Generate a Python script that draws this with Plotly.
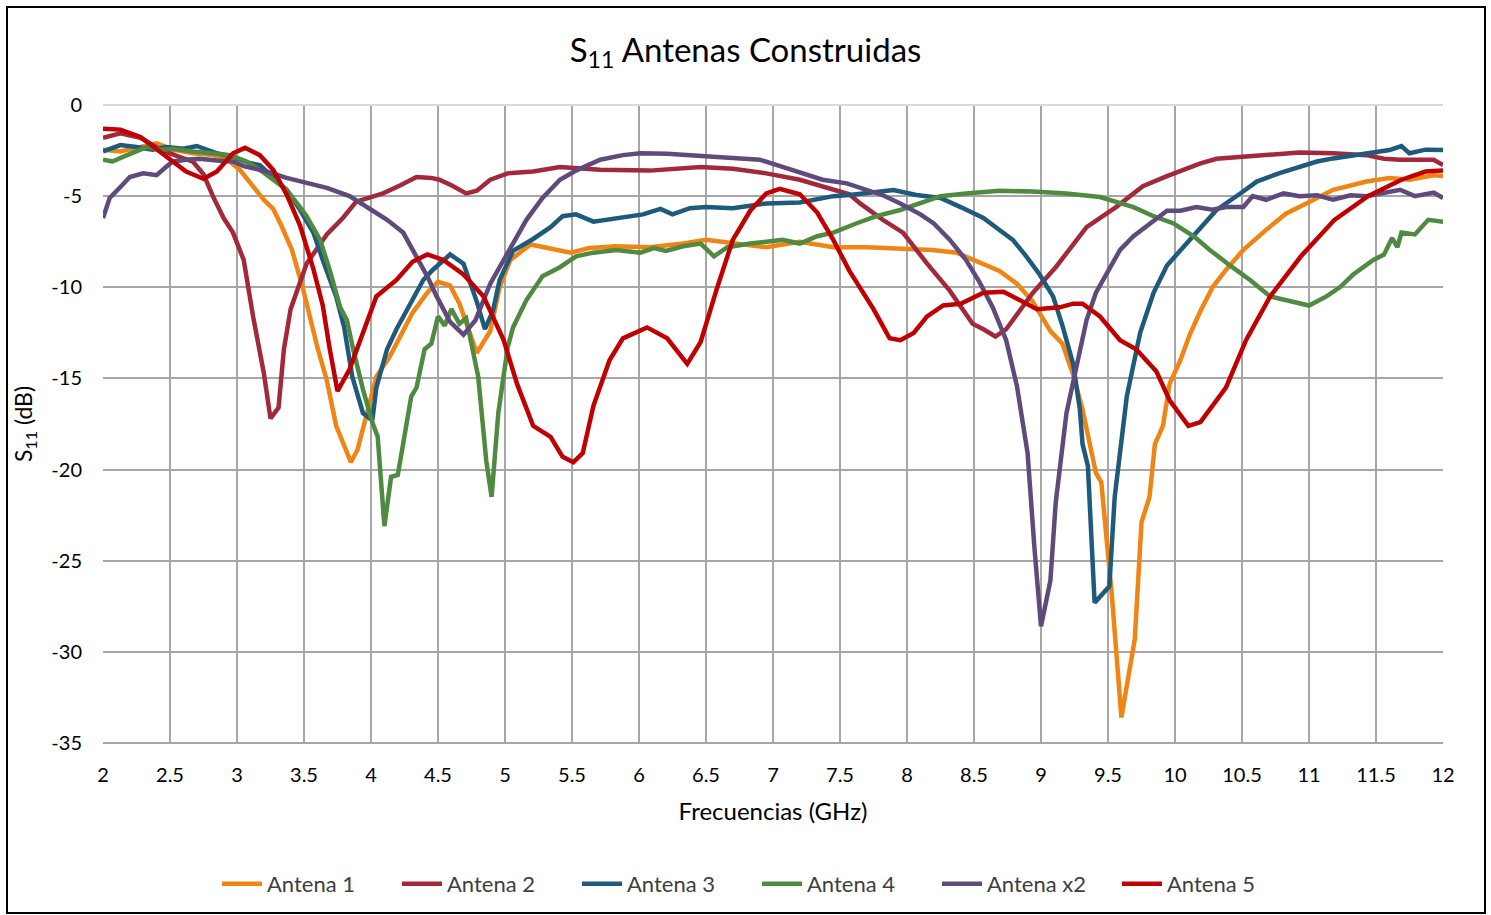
import plotly.graph_objects as go

# Measured S11 curves (frequency in GHz, reflection in dB)
f_antena1 = [2.0, 2.13, 2.28, 2.4, 2.52, 2.67, 2.82, 2.92, 3.02, 3.12, 3.2, 3.27, 3.33, 3.41, 3.49, 3.6,
             3.67, 3.74, 3.85, 3.9, 3.99, 4.04, 4.14, 4.22, 4.31, 4.42, 4.5, 4.59, 4.66, 4.79, 4.89, 4.96,
             5.04, 5.19, 5.34, 5.49, 5.63, 5.83, 6.08, 6.33, 6.5, 6.7, 6.95, 7.2, 7.45, 7.7, 7.95, 8.19,
             8.37, 8.57, 8.69, 8.82, 8.94, 9.07, 9.16, 9.24, 9.31, 9.41, 9.45, 9.53, 9.6, 9.7, 9.75, 9.81,
             9.85, 9.91, 9.96, 10.04, 10.11, 10.19, 10.28, 10.38, 10.51, 10.68, 10.83, 10.98, 11.18, 11.43,
             11.6, 11.75, 11.93, 12.0]
s11_antena1 = [-2.45, -2.55, -2.3, -2.1, -2.45, -2.65, -2.75, -2.95, -3.55, -4.45, -5.2, -5.7, -6.6, -7.95,
               -10.0, -13.3, -15.1, -17.6, -19.6, -18.9, -16.2, -14.9, -13.8, -12.7, -11.4, -10.3, -9.7, -9.9,
               -10.9, -13.6, -12.4, -10.0, -8.5, -7.65, -7.85, -8.1, -7.85, -7.75, -7.8, -7.6, -7.4, -7.6,
               -7.8, -7.5, -7.8, -7.8, -7.85, -7.95, -8.1, -8.7, -9.1, -9.8, -10.8, -12.4, -13.1, -14.8,
               -16.7, -20.2, -20.7, -27.0, -33.6, -29.3, -22.9, -21.5, -18.6, -17.6, -15.3, -14.0, -12.6,
               -11.3, -10.0, -9.05, -7.95, -6.85, -5.95, -5.4, -4.65, -4.2, -4.0, -4.1, -3.85, -3.9]

f_antena2 = [2.0, 2.13, 2.28, 2.43, 2.57, 2.67, 2.75, 2.82, 2.9, 2.97, 3.05, 3.12, 3.2, 3.25, 3.31, 3.35,
             3.4, 3.52, 3.67, 3.79, 3.89, 3.97, 4.09, 4.22, 4.34, 4.45, 4.51, 4.6, 4.71, 4.79, 4.89, 5.02,
             5.21, 5.41, 5.71, 6.08, 6.46, 6.7, 6.95, 7.2, 7.4, 7.57, 7.65, 7.82, 7.97, 8.15, 8.32, 8.49,
             8.57, 8.66, 8.74, 8.94, 9.11, 9.34, 9.56, 9.76, 9.94, 10.04, 10.19, 10.31, 10.49, 10.68,
             10.93, 11.18, 11.43, 11.56, 11.68, 11.93, 12.0]
s11_antena2 = [-1.8, -1.55, -1.8, -2.45, -2.85, -3.1, -3.8, -5.0, -6.2, -7.0, -8.5, -11.6, -14.7, -17.2,
               -16.6, -13.4, -11.2, -8.7, -7.1, -6.2, -5.3, -5.1, -4.85, -4.4, -3.95, -4.0, -4.1, -4.4,
               -4.85, -4.7, -4.1, -3.75, -3.65, -3.4, -3.55, -3.6, -3.4, -3.5, -3.75, -4.1, -4.55, -4.9,
               -5.4, -6.3, -7.0, -8.7, -10.2, -12.0, -12.3, -12.7, -12.3, -10.3, -8.9, -6.7, -5.6, -4.45,
               -3.9, -3.6, -3.2, -2.95, -2.85, -2.75, -2.6, -2.65, -2.75, -2.95, -3.0, -3.0, -3.3]

f_antena3 = [2.0, 2.13, 2.25, 2.37, 2.47, 2.6, 2.7, 2.85, 2.97, 3.1, 3.17, 3.27, 3.37, 3.47, 3.57, 3.64,
             3.74, 3.8, 3.86, 3.94, 4.01, 4.04, 4.12, 4.19, 4.29, 4.39, 4.46, 4.59, 4.69, 4.79, 4.85,
             4.91, 4.96, 5.06, 5.21, 5.34, 5.43, 5.53, 5.66, 5.83, 6.03, 6.16, 6.25, 6.38, 6.5, 6.7,
             6.95, 7.2, 7.33, 7.45, 7.57, 7.7, 7.9, 8.07, 8.25, 8.4, 8.57, 8.69, 8.79, 8.89, 8.99, 9.09,
             9.16, 9.24, 9.29, 9.31, 9.35, 9.4, 9.51, 9.55, 9.64, 9.74, 9.84, 9.94, 10.06, 10.19, 10.31,
             10.49, 10.61, 10.78, 10.93, 11.06, 11.18, 11.43, 11.6, 11.69, 11.75, 11.87, 12.0]
s11_antena3 = [-2.55, -2.2, -2.3, -2.45, -2.3, -2.4, -2.25, -2.65, -2.85, -3.2, -3.3, -3.95, -4.65, -5.75,
               -7.0, -8.5, -10.5, -12.2, -14.9, -16.9, -17.3, -15.5, -13.4, -12.3, -10.9, -9.6, -9.05,
               -8.2, -8.7, -10.8, -12.3, -11.3, -9.6, -8.0, -7.35, -6.7, -6.1, -6.0, -6.4, -6.2, -6.0,
               -5.7, -6.0, -5.66, -5.6, -5.66, -5.4, -5.35, -5.2, -5.0, -4.94, -4.84, -4.66, -4.94, -5.1,
               -5.6, -6.2, -6.86, -7.4, -8.3, -9.3, -10.5, -12.1, -14.2, -16.7, -18.6, -19.8, -27.3,
               -26.4, -21.5, -16.0, -12.5, -10.3, -8.8, -7.8, -6.7, -5.76, -4.84, -4.2, -3.74, -3.38,
               -3.1, -2.93, -2.65, -2.47, -2.25, -2.65, -2.45, -2.47]

f_antena4 = [2.0, 2.07, 2.18, 2.25, 2.33, 2.43, 2.52, 2.67, 2.82, 2.95, 3.07, 3.17, 3.27, 3.37, 3.47, 3.52,
             3.62, 3.69, 3.77, 3.82, 3.87, 3.94, 4.01, 4.05, 4.1, 4.15, 4.2, 4.25, 4.3, 4.34, 4.4, 4.45,
             4.5, 4.55, 4.6, 4.66, 4.71, 4.8, 4.86, 4.9, 4.95, 5.02, 5.06, 5.16, 5.28, 5.41, 5.53, 5.66,
             5.83, 6.01, 6.11, 6.2, 6.33, 6.46, 6.56, 6.66, 6.83, 7.07, 7.2, 7.33, 7.45, 7.62, 7.77, 7.95,
             8.1, 8.25, 8.44, 8.69, 8.94, 9.19, 9.44, 9.59, 9.69, 9.84, 9.99, 10.14, 10.26, 10.41, 10.56,
             10.71, 10.88, 11.0, 11.13, 11.23, 11.33, 11.48, 11.56, 11.62, 11.66, 11.69, 11.79, 11.89, 12.0]
s11_antena4 = [-3.0, -3.1, -2.75, -2.55, -2.3, -2.45, -2.4, -2.55, -2.65, -2.75, -3.1, -3.55, -4.1, -4.65,
               -5.6, -6.1, -7.4, -9.0, -11.1, -11.8, -13.5, -15.6, -17.4, -18.2, -23.1, -20.4, -20.3,
               -18.0, -16.0, -15.5, -13.4, -13.1, -11.6, -12.1, -11.2, -12.0, -11.7, -14.9, -19.5, -21.5,
               -16.9, -13.3, -12.2, -10.7, -9.4, -8.9, -8.3, -8.1, -7.95, -8.1, -7.85, -8.0, -7.75, -7.6,
               -8.3, -7.8, -7.6, -7.4, -7.6, -7.2, -7.0, -6.5, -6.1, -5.76, -5.4, -5.0, -4.85, -4.7, -4.75,
               -4.85, -5.05, -5.4, -5.6, -6.1, -6.5, -7.2, -7.95, -8.8, -9.6, -10.5, -10.8, -11.0, -10.5,
               -10.0, -9.3, -8.5, -8.2, -7.3, -7.8, -7.0, -7.1, -6.3, -6.4]

f_antena_x2 = [2.0, 2.05, 2.13, 2.2, 2.3, 2.4, 2.47, 2.52, 2.62, 2.72, 2.85, 2.97, 3.05, 3.22, 3.37, 3.52,
               3.67, 3.84, 3.97, 4.12, 4.24, 4.34, 4.42, 4.49, 4.59, 4.69, 4.78, 4.89, 5.04, 5.16, 5.28,
               5.41, 5.53, 5.71, 5.88, 6.01, 6.21, 6.46, 6.7, 6.9, 7.03, 7.2, 7.37, 7.55, 7.65, 7.82, 7.95,
               8.1, 8.2, 8.32, 8.44, 8.54, 8.64, 8.74, 8.82, 8.9, 8.95, 9.0, 9.07, 9.11, 9.19, 9.27, 9.34,
               9.41, 9.48, 9.59, 9.69, 9.81, 9.94, 10.04, 10.16, 10.28, 10.38, 10.51, 10.58, 10.68, 10.81,
               10.93, 11.06, 11.18, 11.31, 11.43, 11.56, 11.68, 11.79, 11.93, 12.0]
s11_antena_x2 = [-6.2, -5.1, -4.5, -3.95, -3.75, -3.85, -3.4, -3.1, -3.0, -2.95, -3.05, -3.1, -3.35, -3.65,
                 -4.0, -4.3, -4.55, -5.0, -5.6, -6.3, -7.0, -8.3, -9.4, -10.5, -11.9, -12.6, -11.8, -9.8,
                 -7.8, -6.3, -5.1, -4.1, -3.6, -3.0, -2.75, -2.65, -2.67, -2.8, -2.87, -3.0, -3.3, -3.7,
                 -4.1, -4.3, -4.55, -4.95, -5.4, -6.0, -6.5, -7.4, -8.5, -9.7, -11.1, -12.9, -15.4, -19.1,
                 -24.2, -28.6, -26.1, -21.8, -16.9, -14.2, -11.8, -10.3, -9.4, -7.95, -7.2, -6.5, -5.8,
                 -5.8, -5.6, -5.75, -5.6, -5.6, -5.0, -5.2, -4.85, -5.0, -4.95, -5.2, -4.95, -5.0, -4.85,
                 -4.65, -5.0, -4.8, -5.1]

f_antena5 = [2.0, 2.13, 2.28, 2.47, 2.62, 2.75, 2.85, 2.97, 3.06, 3.17, 3.27, 3.37, 3.47, 3.57, 3.64, 3.69,
             3.75, 3.84, 4.04, 4.19, 4.31, 4.42, 4.54, 4.69, 4.84, 4.99, 5.09, 5.21, 5.34, 5.43, 5.51,
             5.58, 5.66, 5.78, 5.88, 6.06, 6.21, 6.36, 6.46, 6.58, 6.7, 6.83, 6.95, 7.05, 7.2, 7.33,
             7.45, 7.57, 7.75, 7.87, 7.95, 8.05, 8.15, 8.27, 8.4, 8.57, 8.72, 8.84, 8.97, 9.14, 9.24,
             9.31, 9.44, 9.59, 9.71, 9.86, 9.96, 10.1, 10.19, 10.38, 10.53, 10.71, 10.94, 11.19, 11.44,
             11.69, 11.87, 12.0]
s11_antena5 = [-1.3, -1.35, -1.75, -2.8, -3.65, -4.05, -3.65, -2.65, -2.35, -2.75, -3.55, -4.9, -6.6, -9.0,
               -11.0, -13.3, -15.7, -14.5, -10.5, -9.6, -8.6, -8.2, -8.5, -9.3, -10.5, -12.9, -15.3,
               -17.6, -18.2, -19.3, -19.6, -19.1, -16.5, -14.0, -12.8, -12.2, -12.8, -14.2, -13.0, -10.1,
               -7.4, -5.8, -4.85, -4.6, -4.9, -5.9, -7.4, -9.1, -11.2, -12.8, -12.9, -12.5, -11.6, -11.0,
               -10.9, -10.3, -10.25, -10.7, -11.2, -11.1, -10.9, -10.9, -11.6, -12.9, -13.4, -14.6,
               -16.2, -17.6, -17.4, -15.5, -12.9, -10.5, -8.3, -6.3, -5.0, -4.1, -3.65, -3.6]

series = [
    ("Antena 1", f_antena1, s11_antena1, "#F08414"),
    ("Antena 2", f_antena2, s11_antena2, "#A2283B"),
    ("Antena 3", f_antena3, s11_antena3, "#1E5A7C"),
    ("Antena 4", f_antena4, s11_antena4, "#4F8A40"),
    ("Antena x2", f_antena_x2, s11_antena_x2, "#5F4A7C"),
    ("Antena 5", f_antena5, s11_antena5, "#C00000"),
]

y_tickvals = [0, -5, -10, -15, -20, -25, -30, -35]
y_ticktext = ["0", "-5", "-10", "-15", "-20", "-25", "-30", "-35"]
x_tickvals = [2, 2.5, 3, 3.5, 4, 4.5, 5, 5.5, 6, 6.5, 7, 7.5, 8, 8.5, 9, 9.5, 10, 10.5, 11, 11.5, 12]
x_ticktext = ["2", "2.5", "3", "3.5", "4", "4.5", "5", "5.5", "6", "6.5", "7", "7.5", "8", "8.5",
              "9", "9.5", "10", "10.5", "11", "11.5", "12"]

FONT = "Lato, 'Open Sans', sans-serif"
GRID = "#A6A6A6"

fig = go.Figure()
for name, fx, fy, color in series:
    fig.add_trace(go.Scatter(
        x=fx, y=fy, name=name, mode="lines",
        line=dict(color=color, width=4.5),
    ))

W, H = 1491, 915
L, R, T, B = 103, 48, 105, 172
pw, ph = W - L - R, H - T - B


def px_x(p):
    return (p - L) / pw


def px_y(p):
    return (H - B - p) / ph


fig.update_layout(
    width=W, height=H,
    margin=dict(l=L, r=R, t=T, b=B, autoexpand=False),
    paper_bgcolor="white", plot_bgcolor="white",
    font=dict(family=FONT, color="#000000", size=20),
    title=dict(
        text="S<sub>11</sub> Antenas Construidas",
        x=0.5, xref="container", xanchor="center",
        y=1 - 50 / H, yref="container", yanchor="middle",
        font=dict(family=FONT, size=33, color="#000000"),
    ),
    xaxis=dict(
        range=[2, 12], tickvals=x_tickvals, ticktext=x_ticktext,
        showgrid=True, gridcolor=GRID, gridwidth=2,
        zeroline=False, showline=False, ticks="", ticklabelstandoff=18,
        title=dict(text="Frecuencias (GHz)", font=dict(size=24), standoff=18),
        tickfont=dict(size=20),
    ),
    yaxis=dict(
        range=[-35, 0], tickvals=y_tickvals, ticktext=y_ticktext,
        showgrid=True, gridcolor=GRID, gridwidth=2,
        zeroline=True, zerolinecolor="#D9D9D9", zerolinewidth=2,
        showline=False, ticks="", ticklabelstandoff=20,
        title=dict(text="S<sub>11</sub> (dB)", font=dict(size=23), standoff=12),
        tickfont=dict(size=20),
    ),
    legend=dict(
        orientation="h", x=px_x(757), xanchor="center",
        y=px_y(884), yanchor="middle",
        font=dict(size=22, color="#404040"),
        bgcolor="rgba(0,0,0,0)",
        entrywidth=125, entrywidthmode="pixels",
        itemwidth=40, tracegroupgap=0,
    ),
    shapes=[
        dict(type="rect", xref="paper", yref="paper",
             x0=px_x(7), x1=px_x(1485), y0=px_y(913), y1=px_y(7),
             line=dict(color="#000000", width=2), layer="below"),
        dict(type="line", xref="paper", yref="paper",
             x0=0, x1=1, y0=0, y1=0, line=dict(color=GRID, width=2), layer="below"),
    ],
)

fig.write_html("out.html")
